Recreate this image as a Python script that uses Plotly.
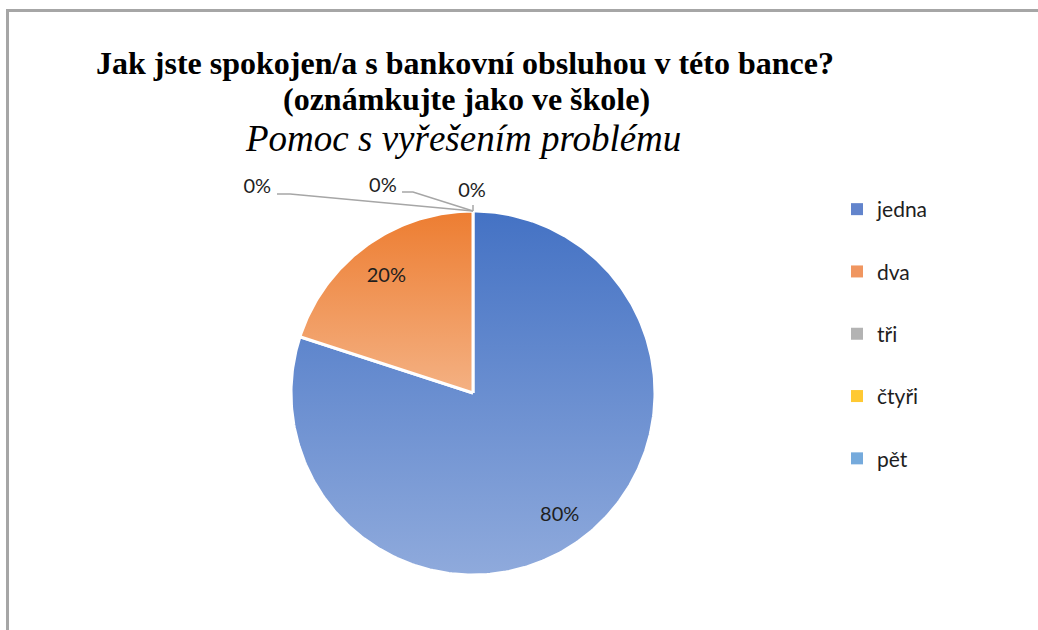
import numpy as np
import plotly.graph_objects as go

# Survey: "How satisfied are you with the bank service?" - grades 1..5
categories = ["jedna", "dva", "tři", "čtyři", "pět"]
shares = [80, 20, 0, 0, 0]  # percent of answers

top_colors = ["#4472C4", "#ED7D31", "#A5A5A5", "#FFC000", "#5B9BD5"]
bottom_colors = ["#8FAADC", "#F4B183", "#C9C9C9", "#FFD966", "#9DC3E6"]
legend_colors = ["#6284CC", "#F09660", "#B3B3B3", "#FFC933", "#75AADC"]

title_main = ["Jak jste spokojen/a s bankovní obsluhou v této bance?",
              "(oznámkujte jako ve škole)"]
title_sub = "Pomoc s vyřešením problému"

W, H = 1038, 630
CX, CY, R = 473, 393, 182          # pie centre / radius in pixels
INSIDE_R = 0.81                    # radial position of inside labels
# label placement for empty slices: (label x, label y, elbow x, end x, line y)
zero_label_layout = [
    (-1.185, 1.126, -1.005, -1.077, 1.093),
    (-0.495, 1.132, -0.330, -0.390, 1.104),
    (-0.005, 1.104, None, None, 1.033),
]

LABEL_FONT = dict(family="Lato, Carlito, sans-serif", size=20, color="#1e1e1e")
GRID = "#A6A6A6"
SERIF = "Liberation Serif, Times New Roman, serif"


def px_x(p):
    return p / W


def px_y(p):
    return 1 - p / H


fig = go.Figure()

total = float(sum(shares))
start = 0.0
zero_idx = 0
for i, (name, v) in enumerate(zip(categories, shares)):
    a0 = start / total * 2 * np.pi
    a1 = (start + v) / total * 2 * np.pi
    start += v
    if v > 0:
        n = max(3, int(np.degrees(a1 - a0)))
        th = np.linspace(a0, a1, n)
        xs = np.concatenate([[0], np.sin(th), [0]])
        ys = np.concatenate([[0], np.cos(th), [0]])
        fig.add_trace(go.Scatter(
            x=xs, y=ys, mode="lines", fill="toself",
            line=dict(color="white", width=3),
            fillgradient=dict(type="vertical",
                              colorscale=[[0, bottom_colors[i]], [1, top_colors[i]]]),
            showlegend=False, hoverinfo="skip"))
        mid = (a0 + a1) / 2
        fig.add_trace(go.Scatter(
            x=[INSIDE_R * np.sin(mid)], y=[INSIDE_R * np.cos(mid) - 0.02],
            mode="text", text=[f"{v / total * 100:.0f}%"],
            textfont=LABEL_FONT, showlegend=False, hoverinfo="skip"))
    else:
        mid = (a0 + a1) / 2
        ax, ay = np.sin(mid), np.cos(mid)
        lx, ly, ex, sx, lny = zero_label_layout[zero_idx]
        zero_idx += 1
        if ex is None:
            lxs, lys = [ax, ax], [lny, ay]
        else:
            lxs, lys = [sx, ex, ax], [lny, lny, ay]
        fig.add_trace(go.Scatter(
            x=lxs, y=lys, mode="lines", line=dict(color=GRID, width=1.5),
            showlegend=False, hoverinfo="skip"))
        fig.add_trace(go.Scatter(
            x=[lx], y=[ly], mode="text", text=[f"{v / total * 100:.0f}%"],
            textfont=LABEL_FONT, showlegend=False, hoverinfo="skip"))

# legend entries
for i, name in enumerate(categories):
    fig.add_trace(go.Scatter(
        x=[None], y=[None], mode="markers", name=name, legendgroup=name,
        marker=dict(symbol="square", size=8, color=legend_colors[i])))

annotations = [
    dict(text=f"<b>{title_main[0]}</b>", x=px_x(465), y=px_y(63), size=32),
    dict(text=f"<b>{title_main[1]}</b>", x=px_x(466), y=px_y(99), size=32),
    dict(text=f"<i>{title_sub}</i>", x=px_x(463), y=px_y(138), size=37),
]
annotations = [
    dict(text=a["text"], x=a["x"], y=a["y"], xref="paper", yref="paper",
         showarrow=False, xanchor="center", yanchor="middle",
         font=dict(family=SERIF, size=a["size"], color="black"))
    for a in annotations
]

shapes = [
    dict(type="line", xref="paper", yref="paper", x0=px_x(7.5), x1=1.0,
         y0=px_y(10.5), y1=px_y(10.5), line=dict(color=GRID, width=3)),
    dict(type="line", xref="paper", yref="paper", x0=px_x(7.5), x1=px_x(7.5),
         y0=px_y(9), y1=0.0, line=dict(color=GRID, width=3)),
]

fig.update_layout(
    width=W, height=H, autosize=False,
    margin=dict(l=0, r=0, t=0, b=0),
    paper_bgcolor="white", plot_bgcolor="white",
    xaxis=dict(range=[-CX / R, (W - CX) / R], visible=False, fixedrange=True),
    yaxis=dict(range=[(CY - H) / R, CY / R], visible=False, fixedrange=True),
    showlegend=True,
    legend=dict(x=px_x(837), y=px_y(189), xanchor="left", yanchor="top",
                traceorder="grouped", tracegroupgap=32,
                font=dict(family="Lato, Carlito, sans-serif", size=21, color="#1e1e1e"),
                bgcolor="rgba(0,0,0,0)", itemsizing="constant"),
    annotations=annotations,
    shapes=shapes,
)

fig.write_html("out.html")
